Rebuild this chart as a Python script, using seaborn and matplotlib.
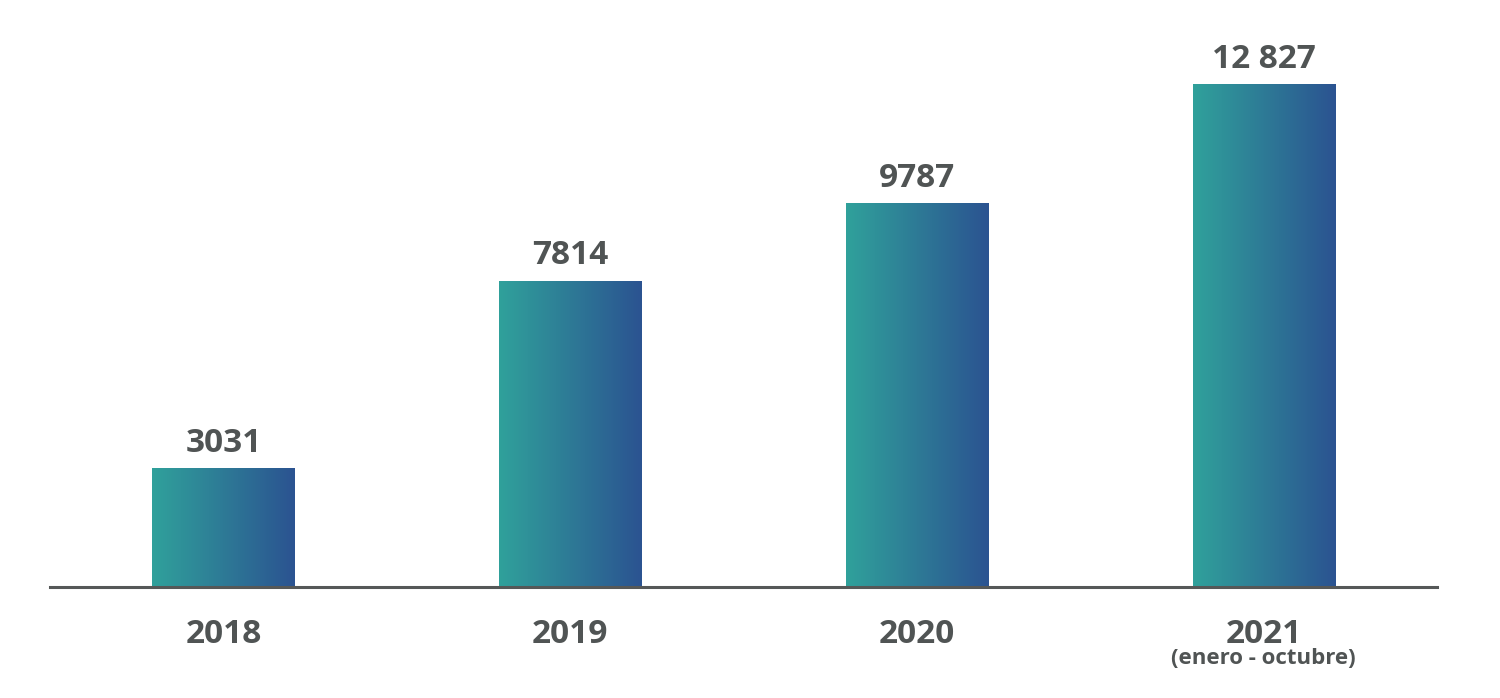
import numpy as np
import pandas as pd
import matplotlib
matplotlib.use("Agg")
import matplotlib.pyplot as plt
from matplotlib.colors import LinearSegmentedColormap
from matplotlib.transforms import blended_transform_factory
import seaborn as sns

sns.set_theme(style="white")
plt.rcParams['font.family'] = ['Open Sans', 'DejaVu Sans']

TEXT = '#505454'
TEAL = '#30A19B'
BLUE = '#2B5391'

years = ['2018', '2019', '2020', '2021']
values = [3031, 7814, 9787, 12827]
value_labels = ['3031', '7814', '9787', '12 827']
year_note = '(enero - octubre)'

df = pd.DataFrame({'year': years, 'value': values})

fig = plt.figure(figsize=(15, 6.98), dpi=100)
ax = fig.add_axes([0.0333, 0.159, 0.9247, 0.841])

sns.barplot(data=df, x='year', y='value', width=0.41, color=TEAL, ax=ax)

# horizontal gradient inside each bar
cmap = LinearSegmentedColormap.from_list('tealblue', [TEAL, BLUE])
grad = np.linspace(0, 1, 256).reshape(1, -1)
for patch in ax.patches:
    x0, y0 = patch.get_x(), patch.get_y()
    w, h = patch.get_width(), patch.get_height()
    im = ax.imshow(grad, cmap=cmap, aspect='auto', extent=[x0, x0 + w, y0, y0 + h],
                   interpolation='bicubic', zorder=patch.get_zorder() + 0.1)
    im.set_clip_path(patch)

# value labels above bars
for patch, lab in zip(ax.patches, value_labels):
    ax.annotate(lab, (patch.get_x() + patch.get_width() / 2, patch.get_height()),
                xytext=(0, 6), textcoords='offset points', ha='center', va='bottom',
                fontsize=24, fontweight='bold', color=TEXT)

ax.set_xlim(-0.5, 3.5)
ax.set_ylim(0, 14975)
ax.set_xlabel('')
ax.set_ylabel('')
ax.set_yticks([])
ax.tick_params(axis='x', length=0, pad=22)
ax.set_xticks(range(len(years)))
ax.set_xticklabels(years, fontsize=24, fontweight='bold', color=TEXT)

trans = blended_transform_factory(ax.transData, ax.transAxes)
ax.text(3, -0.122, year_note, transform=trans, ha='center', va='center',
        fontsize=16, fontweight='bold', color=TEXT)

sns.despine(ax=ax, left=True, top=True, right=True)
ax.spines['bottom'].set_color('#555858')
ax.spines['bottom'].set_linewidth(2.2)

fig.savefig('out.png', dpi=100)
